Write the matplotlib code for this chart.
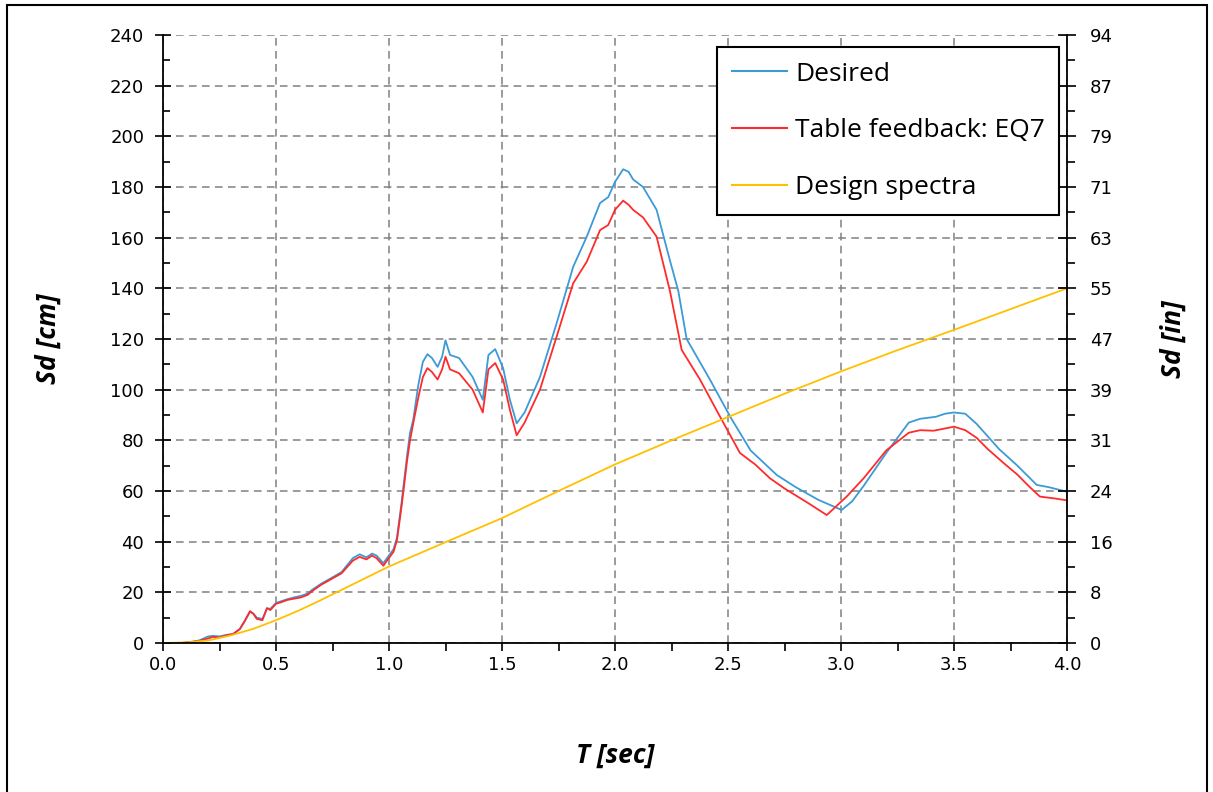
import matplotlib
matplotlib.use("Agg")
import matplotlib.pyplot as plt
from matplotlib.patches import Rectangle
from matplotlib.ticker import MultipleLocator, FuncFormatter

# displacement spectra, Sd in cm against period T in s
t_desired = [0, 0.08, 0.12, 0.16, 0.2, 0.22, 0.25, 0.28, 0.31, 0.34, 0.36, 0.385, 0.40,
             0.415, 0.44, 0.46, 0.475, 0.5, 0.52, 0.55, 0.58, 0.61, 0.64, 0.66, 0.70, 0.74,
             0.79, 0.84, 0.87, 0.90, 0.925, 0.945, 0.975, 0.995, 1.02, 1.035, 1.055, 1.08,
             1.093, 1.107, 1.13, 1.15, 1.17, 1.19, 1.215, 1.235, 1.25, 1.27, 1.31, 1.37,
             1.415, 1.44, 1.47, 1.505, 1.535, 1.565, 1.6, 1.668, 1.742, 1.815, 1.875, 1.934,
             1.97, 2.0, 2.036, 2.06, 2.08, 2.124, 2.184, 2.243, 2.28, 2.317, 2.42, 2.51, 2.6,
             2.716, 2.8, 2.9, 3.003, 3.05, 3.1, 3.2, 3.3, 3.35, 3.42, 3.46, 3.5, 3.55, 3.6,
             3.7, 3.777, 3.866, 3.92, 4.0]
sd_desired = [0, 0, 0.4, 1.0, 2.6, 2.8, 2.6, 3.2, 3.6, 5.5, 8.3, 12.3, 11.6,
              10, 9.5, 13.6, 13.5, 15.8, 16.4, 17.3, 18, 18.6, 19.5, 21, 23.4, 25.4,
              28, 33.5, 35, 33.8, 35.3, 34.5, 31.5, 34, 37, 41.5, 55, 74,
              83, 88, 102, 111, 114, 112.5, 109, 113, 119.5, 113.7, 112.5, 105,
              96, 113.7, 116, 108.5, 96, 86.7, 91, 105, 126.3, 148.5, 160.4, 173.7,
              176, 182, 187, 186, 183, 180, 171, 151, 139, 120, 104, 89.3, 76,
              66.3, 61.5, 56.5, 52.5, 56, 62, 75, 87, 88.5, 89.3, 90.5, 91, 90.5, 86.5,
              76.5, 70.3, 62.4, 61.5, 59.7]

t_feedback = [0, 0.08, 0.12, 0.16, 0.2, 0.22, 0.25, 0.28, 0.31, 0.34, 0.36, 0.385, 0.40,
              0.415, 0.44, 0.46, 0.475, 0.5, 0.52, 0.55, 0.58, 0.61, 0.64, 0.66, 0.70, 0.74,
              0.79, 0.84, 0.87, 0.90, 0.925, 0.945, 0.975, 0.995, 1.02, 1.035, 1.055, 1.08,
              1.093, 1.11, 1.13, 1.15, 1.17, 1.19, 1.215, 1.235, 1.25, 1.27, 1.31, 1.37,
              1.415, 1.44, 1.47, 1.505, 1.535, 1.565, 1.6, 1.668, 1.742, 1.815, 1.875, 1.934,
              1.97, 2.0, 2.036, 2.06, 2.08, 2.124, 2.184, 2.243, 2.295, 2.376, 2.465, 2.553,
              2.62, 2.686, 2.75, 2.85, 2.937, 3.025, 3.1, 3.2, 3.3, 3.35, 3.41, 3.45, 3.5,
              3.55, 3.6, 3.65, 3.72, 3.78, 3.83, 3.88, 3.95, 4.0]
sd_feedback = [0, 0, 0.3, 0.8, 1.8, 2.4, 2.2, 3.0, 3.5, 5.5, 8.5, 12.6, 11.5,
               9.5, 9, 13.8, 13, 15.5, 16, 17, 17.5, 18, 19, 20.5, 23, 25,
               27.5, 32.5, 34, 33, 34.5, 33.5, 30.5, 33, 36, 40.5, 53.5, 72,
               80, 88, 97, 105, 108.5, 107, 104, 108, 113, 108, 106.5, 100,
               91, 108, 110.5, 104, 92, 82, 87, 100, 121, 142, 150.5, 163,
               165, 171, 174.6, 173, 171, 168, 160.4, 139, 115.7, 104, 89.3, 75,
               70.5, 65, 61, 55.5, 50.5, 57.8, 65, 76, 83, 84, 83.8, 84.5, 85.4,
               84, 81, 76.5, 71, 66.5, 62, 57.8, 57, 56.3]

t_design = [0, 0.1, 0.2, 0.3, 0.4, 0.5, 0.6, 0.7, 0.8, 0.9, 1.0, 1.25, 1.5, 1.75,
            2.0, 2.25, 2.5, 2.75, 3.0, 3.25, 3.5, 3.75, 4.0]
sd_design = [0, 0.2, 1.0, 3.0, 5.6, 9.0, 12.8, 17.0, 21.4, 25.8, 30.2, 39.8, 49.3, 60.0,
             70.5, 80.0, 89.2, 98.4, 107.2, 115.6, 123.6, 131.8, 140.0]

labels = ["Desired", "Table feedback: EQ7", "Design spectra"]
colors = ["#3C9AD6", "#FF2B2B", "#FFC000"]

fig = plt.figure(figsize=(12.13, 7.92), dpi=100)
ax = fig.add_axes([163 / 1213, 149 / 792, 904 / 1213, 608 / 792])

ax.plot(t_desired, sd_desired, color=colors[0], lw=1.3, label=labels[0])
ax.plot(t_feedback, sd_feedback, color=colors[1], lw=1.3, label=labels[1])
ax.plot(t_design, sd_design, color=colors[2], lw=1.3, label=labels[2])

ax.set_xlim(0, 4)
ax.set_ylim(0, 240)
ax.xaxis.set_major_locator(MultipleLocator(0.5))
ax.xaxis.set_minor_locator(MultipleLocator(0.25))
ax.yaxis.set_major_locator(MultipleLocator(20))
ax.yaxis.set_minor_locator(MultipleLocator(10))
ax.xaxis.set_major_formatter(FuncFormatter(lambda v, p: f"{v:.1f}"))

ax.grid(True, which="major", color="#808080", ls=(0, (5, 3.5)), lw=1.1)
for s in ["top", "right"]:
    ax.spines[s].set_visible(False)
ax.spines["left"].set_linewidth(1.3)
ax.spines["bottom"].set_linewidth(1.3)

ax.tick_params(axis="x", which="both", direction="out", length=6, width=1.2,
               labelsize=13, pad=3)
ax.tick_params(axis="y", which="major", direction="inout", length=11, width=1.2,
               labelsize=13, pad=8)
ax.tick_params(axis="y", which="minor", direction="in", length=5, width=1.2)

# second axis shows the same scale in inches
ax2 = ax.twinx()
ax2.set_ylim(0, 240)
ax2.yaxis.set_major_locator(MultipleLocator(20))
ax2.yaxis.set_minor_locator(MultipleLocator(10))
ax2.yaxis.set_major_formatter(FuncFormatter(lambda v, p: f"{v / 2.54:.0f}"))
for s in ["top", "left", "bottom"]:
    ax2.spines[s].set_visible(False)
ax2.spines["right"].set_linewidth(1.3)
ax2.tick_params(axis="y", which="major", direction="inout", length=13, width=1.2,
                labelsize=13, pad=10)
ax2.tick_params(axis="y", which="minor", direction="out", length=6, width=1.2)

lab_font = dict(family=["Open Sans", "DejaVu Sans"], weight="bold", style="italic", size=19)
ax.set_xlabel("T [sec]", **lab_font)
ax.set_ylabel("Sd [cm]", **lab_font)
ax2.set_ylabel("Sd [in]", **lab_font)
ax.xaxis.set_label_coords(0.5, -0.163)
ax.yaxis.set_label_coords(-0.112, 0.5)
ax2.yaxis.set_label_coords(1.103, 0.5)

leg = ax.legend(loc="upper left", bbox_to_anchor=(0.613, 0.980), borderaxespad=0,
                prop={"family": ["Open Sans", "DejaVu Sans"], "size": 19},
                frameon=True, fancybox=False, framealpha=1, edgecolor="black",
                handlelength=2.1, handletextpad=0.3, borderpad=0.55, labelspacing=1.2)
leg.get_frame().set_linewidth(1.5)
for h in leg.get_lines():
    h.set_linewidth(1.5)

fig.patches.append(Rectangle((7 / 1213, -0.01), 1200 / 1213, 1.01 - 5 / 792,
                             transform=fig.transFigure, fill=False,
                             ec="black", lw=1.5))

fig.savefig("out.png", dpi=100)
